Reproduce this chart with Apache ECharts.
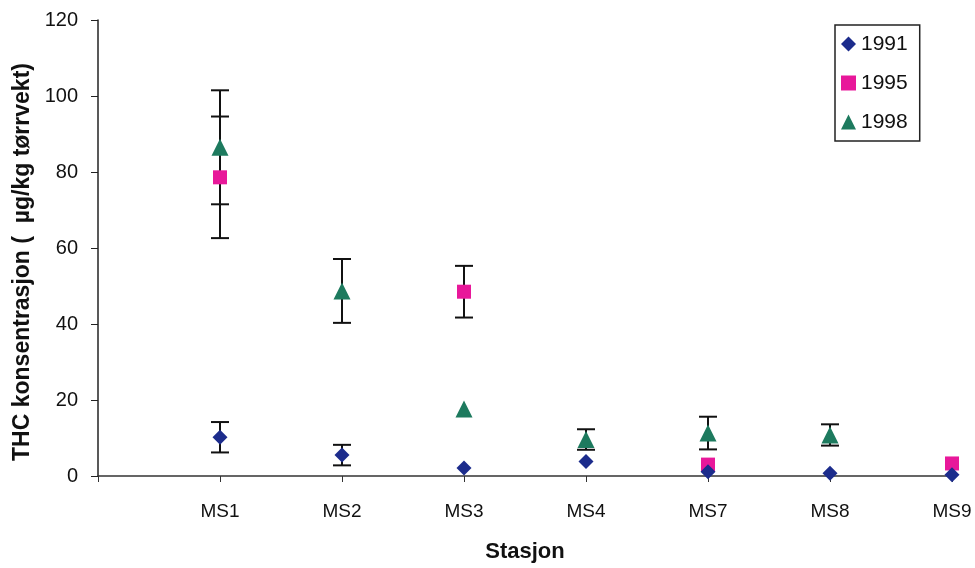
<!DOCTYPE html>
<html><head><meta charset="utf-8">
<script src="https://cdn.jsdelivr.net/npm/echarts@6/dist/echarts.min.js"></script>
<style>html,body{margin:0;padding:0;background:#fff}#c{width:975px;height:568px}</style>
</head><body><div id="c"></div>
<script>
var categories = ['MS1','MS2','MS3','MS4','MS7','MS8','MS9'];
var yTicks = [0,20,40,60,80,100,120];
// null = no measurement
var v1991 = [10.2, 5.5, 2.1, 3.8, 1.1, 0.7, 0.3];
var e1991 = [4.0, 2.7, 0, 0, 0, 0, 0];
var v1995 = [78.6, null, 48.5, null, 3.0, null, 3.3];
var e1995 = [16.0, 0, 6.8, 0, 0, 0, 0];
var v1998 = [86.5, 48.7, 17.6, 9.6, 11.3, 10.8, null];
var e1998 = [15.0, 8.4, 0, 2.7, 4.3, 2.8, 0];

function pts(vals){var o=[];vals.forEach(function(v,i){if(v!==null)o.push([i+1,v]);});return o;}
function errs(vals,es){var o=[];vals.forEach(function(v,i){if(v!==null&&es[i]>0)o.push([i+1,v-es[i],v+es[i]]);});return o;}

function errRender(params, api){
  var x=api.value(0), lo=api.value(1), hi=api.value(2);
  var pLo=api.coord([x,lo]), pHi=api.coord([x,hi]);
  var hw=9;
  var st={stroke:'#111',lineWidth:2};
  return {type:'group',children:[
    {type:'line',shape:{x1:pLo[0],y1:pLo[1],x2:pHi[0],y2:pHi[1]},style:st},
    {type:'line',shape:{x1:pLo[0]-hw,y1:pLo[1],x2:pLo[0]+hw,y2:pLo[1]},style:st},
    {type:'line',shape:{x1:pHi[0]-hw,y1:pHi[1],x2:pHi[0]+hw,y2:pHi[1]},style:st}
  ]};
}

var font='"Liberation Sans", Arial, sans-serif';
var chart=echarts.init(document.getElementById('c'));
chart.setOption({
  animation:false,
  backgroundColor:'#fff',
  textStyle:{fontFamily:font},
  grid:{left:98,right:23,top:20,bottom:92,containLabel:false},
  legend:{
    orient:'vertical', left:835, top:25,
    padding:[8,12,8,6], itemGap:17,
    borderColor:'#222', borderWidth:1.5,
    itemWidth:15, itemHeight:15,
    textStyle:{fontSize:21,lineHeight:22,color:'#111',fontFamily:font},
    data:[{name:'1991',icon:'diamond'},{name:'1995',icon:'rect'},{name:'1998',icon:'triangle'}]
  },
  xAxis:{
    type:'value', min:0, max:7, interval:1,
    name:'Stasjon', nameLocation:'middle', nameGap:65,
    nameTextStyle:{fontSize:22,fontWeight:'bold',color:'#111',fontFamily:font},
    axisLine:{lineStyle:{color:'#333',width:1.5}},
    axisTick:{show:true,length:6,lineStyle:{color:'#333'}},
    axisLabel:{fontSize:19,color:'#111',margin:26,fontFamily:font,
      formatter:function(v){return v>=1&&v<=categories.length?categories[v-1]:'';}},
    splitLine:{show:false}
  },
  yAxis:{
    type:'value', min:yTicks[0], max:yTicks[yTicks.length-1], interval:20,
    name:'THC konsentrasjon (  µg/kg tørrvekt)', nameLocation:'middle', nameGap:61,
    nameTextStyle:{fontSize:23,fontWeight:'bold',color:'#111',fontFamily:font,padding:[0,28,0,0]},
    axisLine:{show:true,lineStyle:{color:'#222',width:1.5}},
    axisTick:{show:true,length:7,lineStyle:{color:'#222'}},
    axisLabel:{fontSize:20,color:'#111',margin:20,fontFamily:font},
    splitLine:{show:false}
  },
  series:[
    {type:'custom',name:'e1991',renderItem:errRender,data:errs(v1991,e1991),z:1,encode:{x:0,y:[1,2]},silent:true},
    {type:'custom',name:'e1995',renderItem:errRender,data:errs(v1995,e1995),z:1,encode:{x:0,y:[1,2]},silent:true},
    {type:'custom',name:'e1998',renderItem:errRender,data:errs(v1998,e1998),z:1,encode:{x:0,y:[1,2]},silent:true},
    {type:'scatter',name:'1991',symbol:'diamond',symbolSize:15,data:pts(v1991),itemStyle:{color:'#1c2c8c',opacity:1},z:3},
    {type:'scatter',name:'1995',symbol:'rect',symbolSize:14,data:pts(v1995),itemStyle:{color:'#e8189a',opacity:1},z:2},
    {type:'scatter',name:'1998',symbol:'triangle',symbolSize:17,data:pts(v1998),itemStyle:{color:'#1d7a5e',opacity:1},z:4}
  ]
});
</script></body></html>
